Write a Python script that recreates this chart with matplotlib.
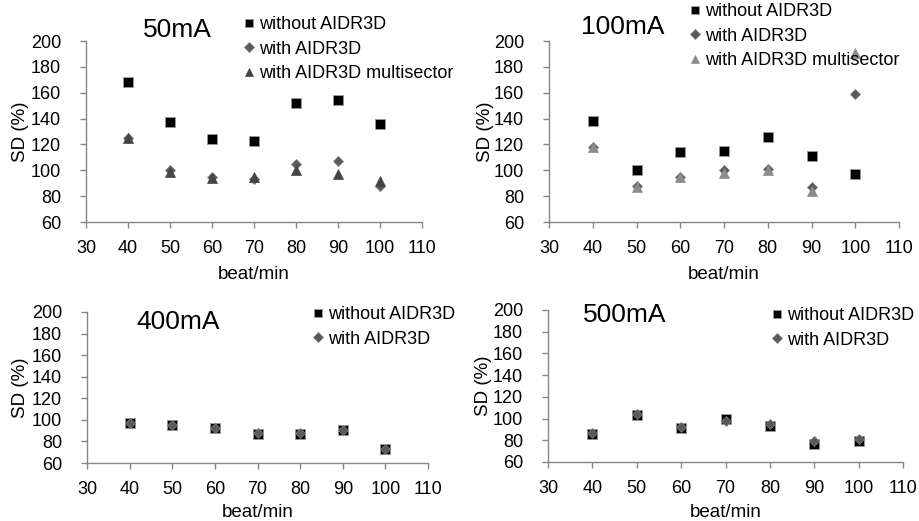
import matplotlib.pyplot as plt

plt.rcParams['font.family'] = ['Liberation Sans', 'DejaVu Sans']

bpm = [40, 50, 60, 70, 80, 90, 100]

# 50mA
sd50_without = [168, 137, 124, 123, 152, 154, 136]
sd50_with = [125, 100, 95, 93, 105, 107, 88]
sd50_multi = [125, 99, 94, 95, 100, 97, 92]

# 100mA
sd100_without = [138, 100, 114, 115, 126, 111, 97]
sd100_with = [118, 88, 95, 100, 101, 87, 159]
sd100_multi = [118, 87, 95, 98, 100, 84, 191]

# 400mA
sd400_without = [97, 95, 92, 87, 87, 91, 73]
sd400_with = [97, 95, 92, 88, 88, 91, 73]

# 500mA
sd500_without = [86, 103, 91, 100, 93, 77, 79]
sd500_with = [87, 104, 92, 98, 95, 79, 81]

labels = ['without AIDR3D', 'with AIDR3D', 'with AIDR3D multisector']

W, H = 919, 521
fig = plt.figure(figsize=(W / 100, H / 100), dpi=100)


def px_axes(x0, x1, y0, y1):
    """axes from pixel box (left, right, top, bottom)"""
    return fig.add_axes([x0 / W, 1 - y1 / H, (x1 - x0) / W, (y1 - y0) / H])


def style(ax, ylab_x, xlab_y):
    ax.set_xlim(30, 110)
    ax.set_ylim(60, 200)
    ax.set_xticks(range(30, 111, 10))
    ax.set_yticks(range(60, 201, 20))
    for s in ['top', 'right']:
        ax.spines[s].set_visible(False)
    for s in ['left', 'bottom']:
        ax.spines[s].set_color('#868686')
        ax.spines[s].set_linewidth(1.0)
    ax.tick_params(direction='out', length=4, width=1, color='#868686',
                   labelsize=13)
    ax.tick_params(axis='x', pad=9)
    ax.tick_params(axis='y', pad=14)
    ax.set_xlabel('beat/min', fontsize=13.5)
    ax.set_ylabel('SD (%)', fontsize=13.5)
    # label positions in pixels
    box = ax.get_position()
    ax.yaxis.set_label_coords(ylab_x / W, (box.y0 + box.y1) / 2,
                              transform=fig.transFigure)
    ax.xaxis.set_label_coords((box.x0 + box.x1) / 2, 1 - xlab_y / H,
                              transform=fig.transFigure)


def series(ax, without, with_, multi=None, multi_color='#404040'):
    ax.plot(bpm, without, 's', ms=7, color='black', mec='#9a9a9a', mew=0.6,
            label=labels[0])
    ax.plot(bpm, with_, 'D', ms=5.5, color='#5a5a5a', mec='#7a7a7a', mew=0.5,
            label=labels[1])
    if multi is not None:
        ax.plot(bpm, multi, '^', ms=7, color=multi_color, mec=multi_color,
                mew=0.5, label=labels[2])


def legend(ax, x, y):
    ax.legend(loc='upper left', bbox_to_anchor=(x / W, 1 - y / H),
              bbox_transform=fig.transFigure, frameon=False, fontsize=13,
              handlelength=0.6, handletextpad=0.25, labelspacing=0.42,
              borderpad=0, borderaxespad=0, numpoints=1, markerscale=0.85)


def title(x, y, s):
    fig.text(x / W, 1 - y / H, s, fontsize=19, ha='center', va='center')


# top left
ax1 = px_axes(86, 422, 41, 222)
series(ax1, sd50_without, sd50_with, sd50_multi, '#454545')
style(ax1, 29, 266)
title(177, 30, '50mA')
legend(ax1, 244, 16)

# top right
ax2 = px_axes(549, 899, 41, 222)
series(ax2, sd100_without, sd100_with, sd100_multi, '#8c8c8c')
style(ax2, 494, 266)
title(623, 27, '100mA')
legend(ax2, 690, 3)

# bottom left
ax3 = px_axes(87, 428, 312, 463)
series(ax3, sd400_without, sd400_with)
style(ax3, 29, 504)
title(178, 322, '400mA')
legend(ax3, 313, 306)

# bottom right
ax4 = px_axes(548, 903, 310, 462)
series(ax4, sd500_without, sd500_with)
style(ax4, 492, 504)
title(625, 315, '500mA')
legend(ax4, 772, 307)

fig.savefig('out.png', dpi=100)
